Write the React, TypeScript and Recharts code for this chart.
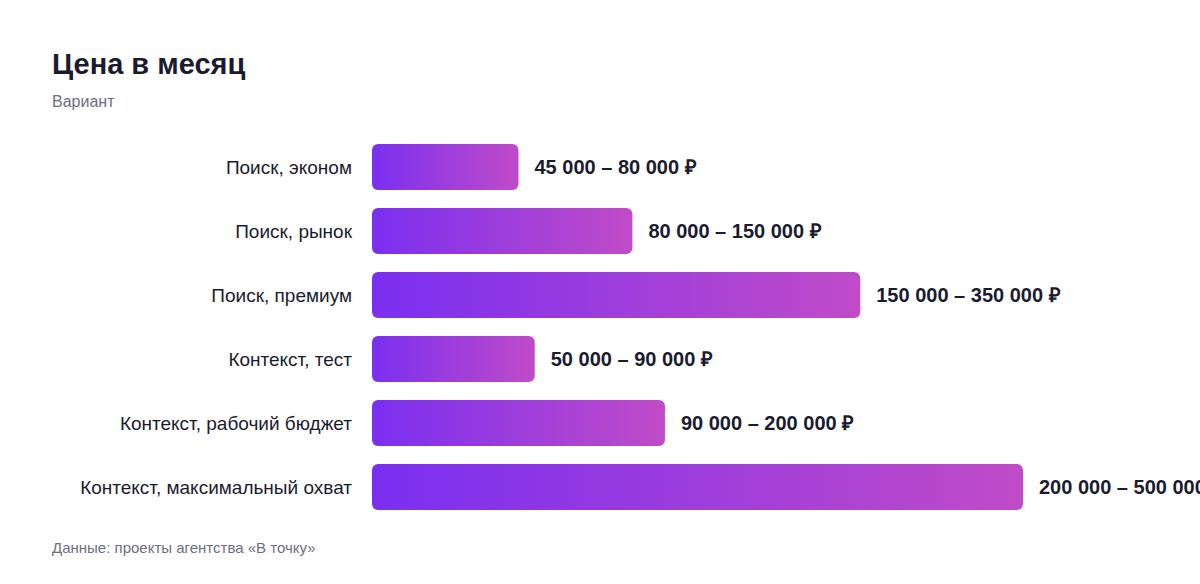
import { Bar, BarChart, LabelList, XAxis, YAxis } from 'recharts'

const categories = [
  'Поиск, эконом',
  'Поиск, рынок',
  'Поиск, премиум',
  'Контекст, тест',
  'Контекст, рабочий бюджет',
  'Контекст, максимальный охват',
]
const priceFrom = [45000, 80000, 150000, 50000, 90000, 200000]
const priceTo = [80000, 150000, 350000, 90000, 200000, 500000]

const fmt = (v: number) => v.toLocaleString('ru-RU').replace(/\u00a0|\u202f/g, ' ')

const data = categories.map((name, i) => ({
  name,
  from: priceFrom[i],
  to: priceTo[i],
  label: `${fmt(priceFrom[i])} – ${fmt(priceTo[i])} ₽`,
}))

const FONT = '"Liberation Sans", Arial, Helvetica, sans-serif'

const RangeLabel = (props: any) => {
  const { x, y, width, height, value } = props
  return (
    <text
      x={x + width + 16}
      y={y + height / 2}
      dy="0.35em"
      fontSize={20}
      fontWeight={700}
      fill="#1b1b2f"
      fontFamily={FONT}
    >
      {value}
    </text>
  )
}

export default function App() {
  return (
    <div
      style={{
        position: 'fixed',
        left: 0,
        top: 0,
        width: 1200,
        height: 584,
        background: '#fff',
        fontFamily: FONT,
        overflow: 'hidden',
      }}
    >
      <div
        style={{
          position: 'absolute',
          left: 52,
          top: 44,
          fontSize: 29,
          fontWeight: 700,
          color: '#1b1b2f',
          lineHeight: '40px',
        }}
      >
        Цена в месяц
      </div>
      <div style={{ position: 'absolute', left: 52, top: 92, fontSize: 16, color: '#6e6e80', lineHeight: '20px' }}>
        Вариант
      </div>
      <div style={{ position: 'absolute', left: 0, top: 0 }}>
        <BarChart
          width={1200}
          height={584}
          data={data}
          layout="vertical"
          margin={{ top: 135, right: 177, bottom: 65, left: 0 }}
        >
          <defs>
            <linearGradient id="barGrad" x1="0" y1="0" x2="1" y2="0">
              <stop offset="0%" stopColor="#7a2ff0" />
              <stop offset="100%" stopColor="#c04bc8" />
            </linearGradient>
          </defs>
          <XAxis type="number" hide domain={[0, 'dataMax']} />
          <YAxis
            type="category"
            dataKey="name"
            width={372}
            axisLine={false}
            tickLine={false}
            tickMargin={14}
            tick={{ fontSize: 19, fill: '#1b1b2f', fontFamily: FONT }}
          />
          <Bar dataKey="from" barSize={46} fill="url(#barGrad)" radius={6} isAnimationActive={false}>
            <LabelList dataKey="label" content={RangeLabel} />
          </Bar>
        </BarChart>
      </div>
      <div style={{ position: 'absolute', left: 52, top: 538, fontSize: 15, color: '#6e6e80', lineHeight: '20px' }}>
        Данные: проекты агентства «В точку»
      </div>
    </div>
  )
}
